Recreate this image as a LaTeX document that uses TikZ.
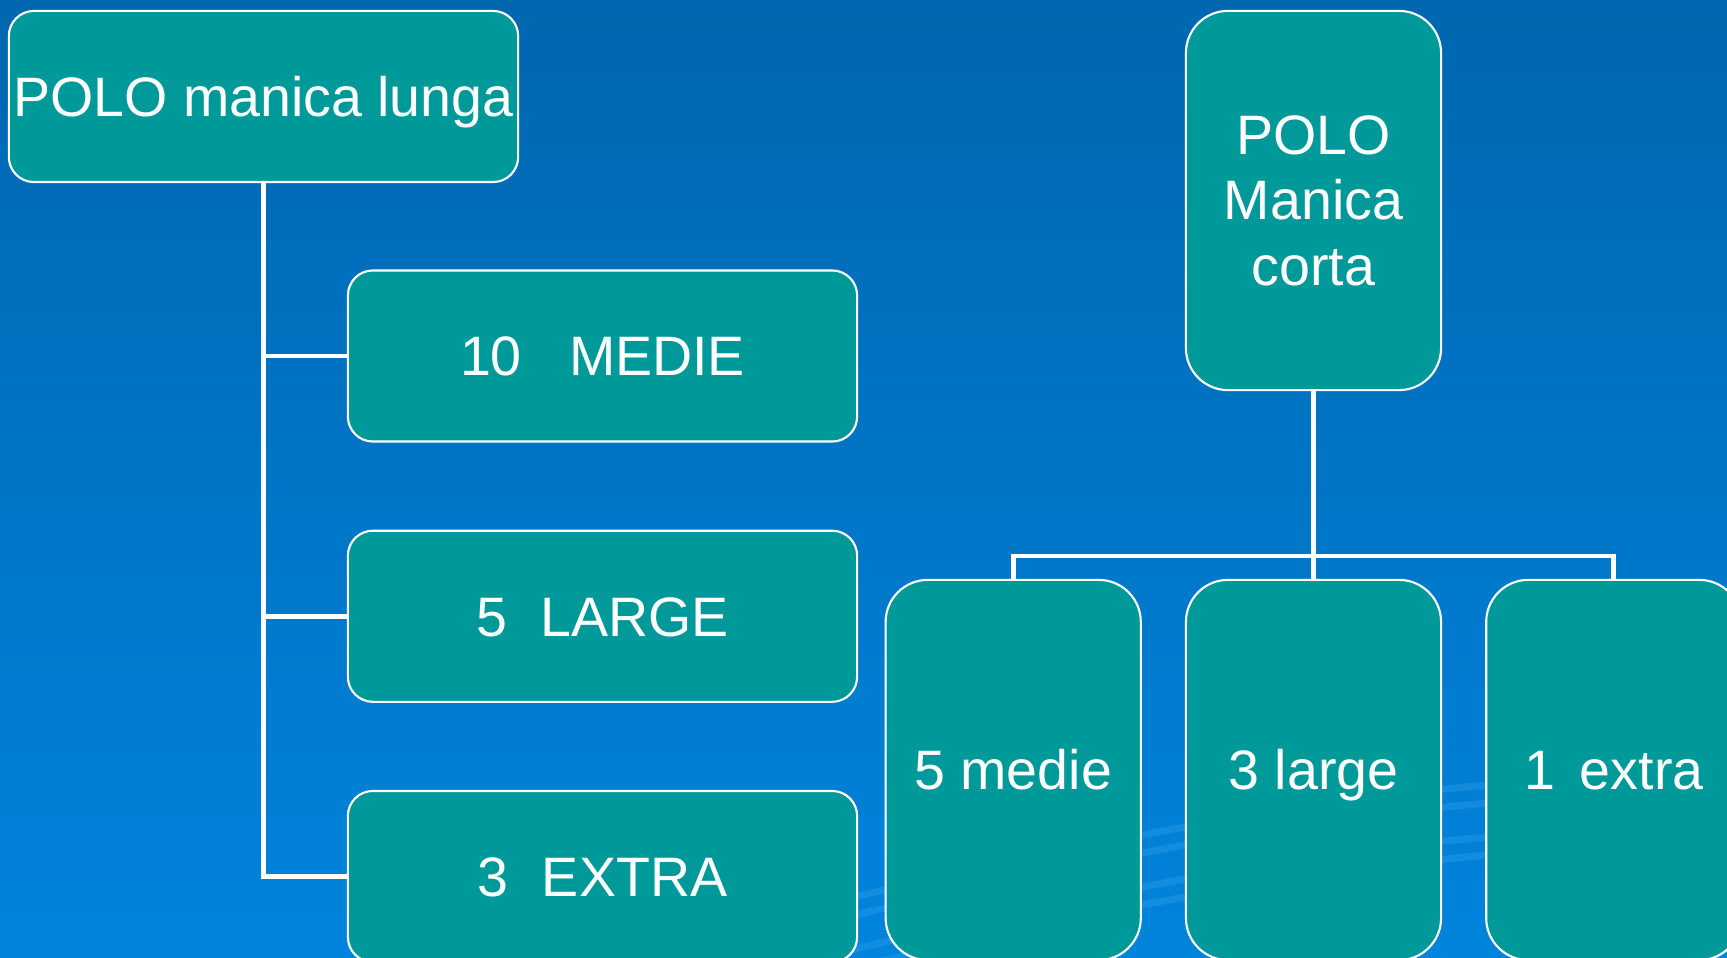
\documentclass[tikz,border=0pt]{standalone}
\usepackage{fontspec}
\setmainfont{Liberation Sans}
\usetikzlibrary{positioning}
\definecolor{slidetop}{HTML}{0066B0}
\definecolor{slidebottom}{HTML}{0084DC}
\definecolor{swirlblue}{HTML}{2A9BEA}
\definecolor{poloteal}{HTML}{009999}
\tikzset{
    box/.style={rectangle, draw=white, fill=poloteal, line width=0.6pt, text=white,
        inner sep=0pt, align=center, font=\fontsize{15.8}{18.6}\selectfont},
    captext/.style={text height=11.3pt, text depth=0pt},
    widebox/.style={box, captext, minimum width=5.09cm, minimum height=1.71cm, rounded corners=0.25cm},
    tallbox/.style={box, minimum width=2.55cm, minimum height=3.80cm, rounded corners=0.42cm},
    link/.style={draw=white, line width=1.4pt},
    swirl/.style={draw=swirlblue, line width=2pt, opacity=0.45}
}

\begin{document}
\begin{tikzpicture}[x=0.01cm, y=-0.01cm, node distance=0.87cm]
    \useasboundingbox (0,0) rectangle (1727,958);
    \clip (0,0) rectangle (1727,958);
    \fill[top color=slidetop, bottom color=slidebottom] (0,0) rectangle (1727,958);
    % background swirls
    \foreach \d in {0,18,52,70}
        \draw[swirl] (820,975-\d) .. controls (1100,910-\d) and (1300,870-\d) .. (1490,855-\d);
    % left tree
    \node[widebox] (lunga) at (263.5,96.5) {POLO manica lunga};
    \node[widebox] (medie) at (602.5,356) {10\hspace{0.85em}MEDIE};
    \node[widebox] (large) [below=of medie] {5\hspace{0.6em}LARGE};
    \node[widebox] (extra) [below=of large] {3\hspace{0.6em}EXTRA};
    % right tree
    \node[tallbox, minimum height=3.79cm] (corta) at (1313.5,200.5) {POLO\\Manica\\corta};
    \node[tallbox, captext] (clarge) at (1313.5,770) {3 large};
    \node[tallbox, captext] (cmedie) [left=0.43cm of clarge] {5 medie};
    \node[tallbox, captext] (cextra) [right=0.43cm of clarge] {1\hspace{0.45em}extra};
    \coordinate (bus) at (1313.5,556);
    \draw[link] (lunga.south) |- (medie.west);
    \draw[link] (lunga.south) |- (large.west);
    \draw[link] (lunga.south) |- (extra.west);
    \draw[link] (corta.south) -- (clarge.north);
    \draw[link] (cmedie.north) |- (bus) -| (cextra.north);
\end{tikzpicture}
\end{document}
